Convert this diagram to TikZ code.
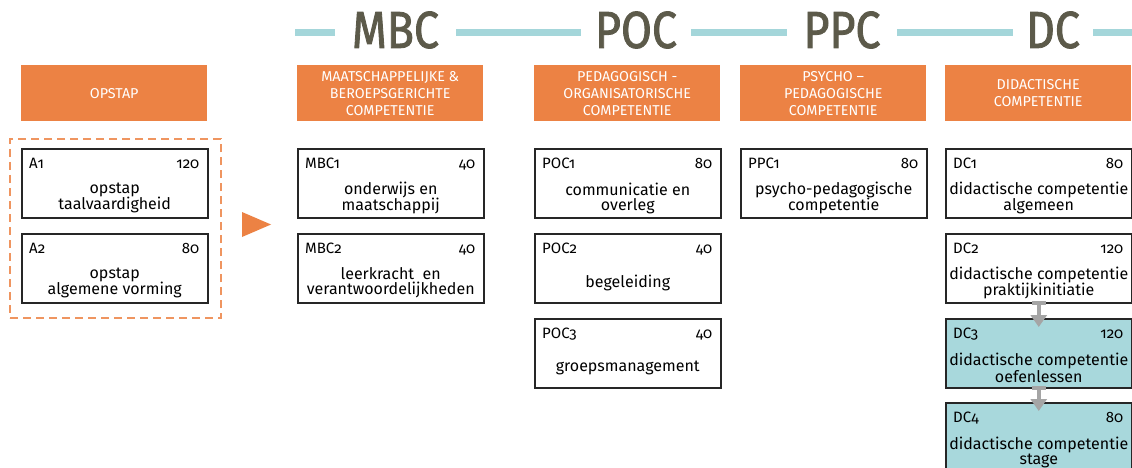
\documentclass[tikz,border=0pt]{standalone}
\usepackage{fontspec}
\setmainfont{Fira Sans}[Numbers=OldStyle]
\newfontfamily\titlefont{Fira Sans}[FakeStretch=0.86,FakeBold=1.6]
\usetikzlibrary{arrows.meta}
\definecolor{orng}{RGB}{236,130,68}
\definecolor{bandteal}{RGB}{164,214,218}
\definecolor{fillteal}{RGB}{168,216,220}
\definecolor{ttlgray}{RGB}{92,90,74}
\definecolor{arrgray}{RGB}{165,165,165}
\tikzset{
  ttl/.style={inner sep=0pt, text=ttlgray, font=\titlefont\fontsize{52}{52}\selectfont},
  band/.style={draw=bandteal, line width=7pt},
  hdr/.style={fill=orng, text=white, minimum width=186pt, minimum height=56pt, inner sep=0pt,
    align=center, font=\fontsize{14.3}{17}\selectfont},
  modbox/.style={draw=black!85, line width=1.5pt, minimum width=186pt, minimum height=69pt, inner sep=0pt},
  idlbl/.style={inner sep=0pt, font=\fontsize{15}{15}\selectfont},
  desc/.style={inner sep=0pt, align=center, font=\fontsize{16}{15}\selectfont},
  grpbox/.style={draw=orng!85, line width=2pt, dash pattern=on 8pt off 5pt, minimum width=211pt, minimum height=179pt, inner sep=0pt},
  flowarrow/.style={draw=arrgray, line width=4pt, {Rectangle[width=14pt,length=4pt]}-{Triangle[width=16pt,length=12pt]}, shorten <=-3pt, shorten >=-9pt}
}
\newcommand\modbox[7]{%
  \node[modbox,fill=#4,anchor=north west] (#1) at (#2,#3) {};
  \node[idlbl,anchor=base west] (#1id) at ([xshift=8pt,yshift=-20pt]#1.north west) {#5};
  \node[idlbl,anchor=base east] (#1num) at ([xshift=-9pt,yshift=-20pt]#1.north east) {#6};
  \node[desc] (#1desc) at ([yshift=-50pt]#1.north) {#7};
}
\begin{document}
\begin{tikzpicture}[x=1pt,y=-1pt]
\useasboundingbox (0,0) rectangle (1132,468);
\clip (0,0) rectangle (1132,468);
\fill[white] (0,0) rectangle (1132,468);
% title band
\coordinate (bandL) at (295,33);
\coordinate (bandR) at (1140,33);
\node[ttl, minimum width=121pt] (tMBC) at (395.5,30) {MBC};
\node[ttl, minimum width=110pt] (tPOC) at (636,30) {POC};
\node[ttl, minimum width=110pt] (tPPC) at (842,30) {PPC};
\node[ttl, minimum width=80pt] (tDC) at (1053,30) {DC};
\draw[band] (bandL) -- (tMBC.west |- bandL);
\draw[band] (tMBC.east |- bandL) -- (tPOC.west |- bandL);
\draw[band] (tPOC.east |- bandL) -- (tPPC.west |- bandL);
\draw[band] (tPPC.east |- bandL) -- (tDC.west |- bandL);
\draw[band] (tDC.east |- bandL) -- (bandR);
% headers
\node[hdr, anchor=north west] (hOP) at (21,65) {OPSTAP};
\node[hdr, anchor=north west] (hMBC) at (297,65) {MAATSCHAPPELIJKE \&\\BEROEPSGERICHTE\\COMPETENTIE};
\node[hdr, anchor=north west] (hPOC) at (534,65) {PEDAGOGISCH -\\ORGANISATORISCHE\\COMPETENTIE};
\node[hdr, anchor=north west] (hPPC) at (740,65) {PSYCHO –\\PEDAGOGISCHE\\COMPETENTIE};
\node[hdr, anchor=north west] (hDC) at (945,65) {DIDACTISCHE\\COMPETENTIE};
% opstap group
\node[grpbox, anchor=north west] (grp) at (9,138) {};
\modbox{A1}{21}{148}{white}{A1}{120}{opstap\\taalvaardigheid}
\modbox{A2}{21}{233}{white}{A2}{80}{opstap\\algemene vorming}
\fill[orng] (242,212) -- (271,224.5) -- (242,237) -- cycle;
% MBC
\modbox{MBC1}{297}{148}{white}{MBC1}{40}{onderwijs en\\maatschappij}
\modbox{MBC2}{297}{233}{white}{MBC2}{40}{leerkracht\ \ en\\verantwoordelijkheden}
% POC
\modbox{POC1}{534}{148}{white}{POC1}{80}{communicatie en\\overleg}
\modbox{POC2}{534}{233}{white}{POC2}{40}{begeleiding}
\modbox{POC3}{534}{318}{white}{POC3}{40}{groepsmanagement}
% PPC
\modbox{PPC1}{740}{148}{white}{PPC1}{80}{psycho-pedagogische\\competentie}
% DC
\modbox{DC1}{945}{148}{white}{DC1}{80}{didactische competentie\\algemeen}
\modbox{DC2}{945}{233}{white}{DC2}{120}{didactische competentie\\praktijkinitiatie}
\modbox{DC3}{945}{318}{fillteal}{DC3}{120}{didactische competentie\\oefenlessen}
\modbox{DC4}{945}{402}{fillteal}{DC4}{80}{didactische competentie\\stage}
\draw[flowarrow] (DC2.south) -- (DC3.north);
\draw[flowarrow] (DC3.south) -- (DC4.north);
\end{tikzpicture}
\end{document}
